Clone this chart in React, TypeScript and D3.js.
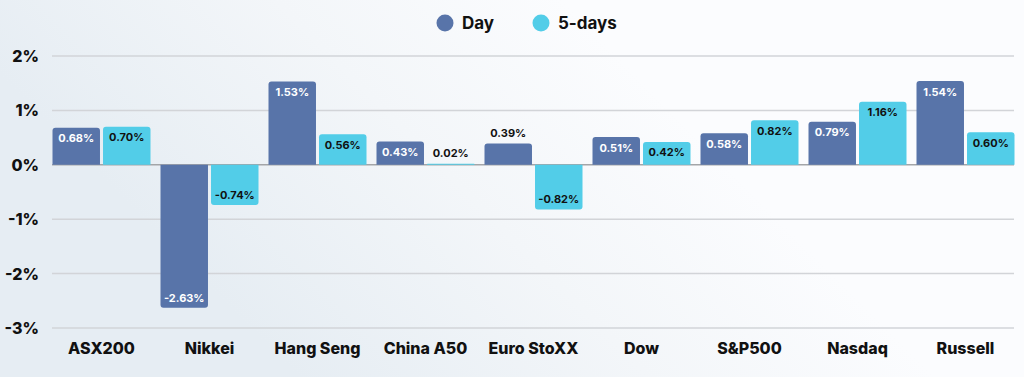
import React from "react";
import * as d3 from "d3";

const categories = ["ASX200", "Nikkei", "Hang Seng", "China A50", "Euro StoXX", "Dow", "S&P500", "Nasdaq", "Russell"];
const dayValues = [0.68, -2.63, 1.53, 0.43, 0.39, 0.51, 0.58, 0.79, 1.54];
const fiveDayValues = [0.70, -0.74, 0.56, 0.02, -0.82, 0.42, 0.82, 1.16, 0.60];
const seriesNames = ["Day", "5-days"];
const yTicks = [2, 1, 0, -1, -2, -3];

const W = 1024;
const H = 377;
const colors: Record<string, string> = { Day: "#5874a9", "5-days": "#52cde8" };
const labelColors: Record<string, string> = { Day: "#ffffff", "5-days": "#111111" };
const FONT = "Inter, 'Open Sans', sans-serif";

function barPath(x: number, w: number, y0: number, y1: number, r: number) {
  const h = Math.abs(y1 - y0);
  const rr = Math.min(r, h / 2, w / 2);
  if (y1 <= y0) {
    return `M${x},${y0}V${y1 + rr}Q${x},${y1} ${x + rr},${y1}H${x + w - rr}Q${x + w},${y1} ${x + w},${y1 + rr}V${y0}Z`;
  }
  return `M${x},${y0}V${y1 - rr}Q${x},${y1} ${x + rr},${y1}H${x + w - rr}Q${x + w},${y1} ${x + w},${y1 - rr}V${y0}Z`;
}

export default function App() {
  const x0 = d3.scaleBand<string>().domain(categories).range([47.5, 1019.5]).paddingInner(0).paddingOuter(0);
  const x1 = d3.scaleBand<string>().domain(seriesNames).range([5, 103]).paddingInner(0.06);
  const y = d3.scaleLinear().domain([-3, 2]).range([328, 56]);

  const data = categories.map((c, i) => ({ c, vals: [dayValues[i], fiveDayValues[i]] }));

  return (
    <svg width={W} height={H} style={{ position: "absolute", left: 0, top: 0, display: "block" }}>
      <defs>
        <linearGradient id="bg" x1="0" y1="0.2" x2="0.55" y2="0">
          <stop offset="0" stopColor="#e6edf3" />
          <stop offset="0.55" stopColor="#f3f6f9" />
          <stop offset="1" stopColor="#fbfcfe" />
        </linearGradient>
      </defs>
      <rect x={0} y={0} width={W} height={H} fill="url(#bg)" />

      {/* legend */}
      <g fontFamily={FONT} fontWeight={700} fontSize={17} fill="#111">
        <circle cx={445} cy={23} r={8.5} fill={colors.Day} />
        <text x={462} y={29}>Day</text>
        <circle cx={541} cy={23} r={8.5} fill={colors["5-days"]} />
        <text x={558} y={29}>5-days</text>
      </g>

      {/* gridlines */}
      {yTicks.map((t) => (
        <line key={t} x1={52} x2={1014} y1={y(t)} y2={y(t)} stroke={t === 0 ? "#a3a5a8" : "#d2d4d8"} strokeWidth={1.5} />
      ))}
      {yTicks.map((t) => (
        <text key={"l" + t} x={39} y={y(t) + 6} textAnchor="end" fontFamily={FONT} fontWeight={800} fontSize={16} fill="#111">
          {`${t}%`}
        </text>
      ))}

      {/* bars */}
      {data.map((d) => (
        <g key={d.c} transform={`translate(${x0(d.c)},0)`}>
          {d.vals.map((v, j) => {
            const s = seriesNames[j];
            const bx = x1(s)!;
            const bw = x1.bandwidth();
            const yv = y(v);
            const y0 = y(0);
            const small = v >= 0 && v < 0.4;
            let ly: number;
            let fill = labelColors[s];
            if (v >= 0) {
              if (small) {
                ly = yv - 11 + 4;
                fill = "#111";
              } else ly = yv + 10.5 + 4;
            } else {
              ly = yv - 10 + 4;
            }
            return (
              <g key={s}>
                <path d={barPath(bx, bw, y0, yv, 3)} fill={colors[s]} />
                <text x={bx + bw / 2} y={ly} textAnchor="middle" fontFamily={FONT} fontWeight={700} fontSize={11} fill={fill}>
                  {`${v.toFixed(2)}%`}
                </text>
              </g>
            );
          })}
          <text x={x0.bandwidth() / 2} y={354} textAnchor="middle" fontFamily={FONT} fontWeight={800} fontSize={16} fill="#111">
            {d.c}
          </text>
        </g>
      ))}
    </svg>
  );
}
